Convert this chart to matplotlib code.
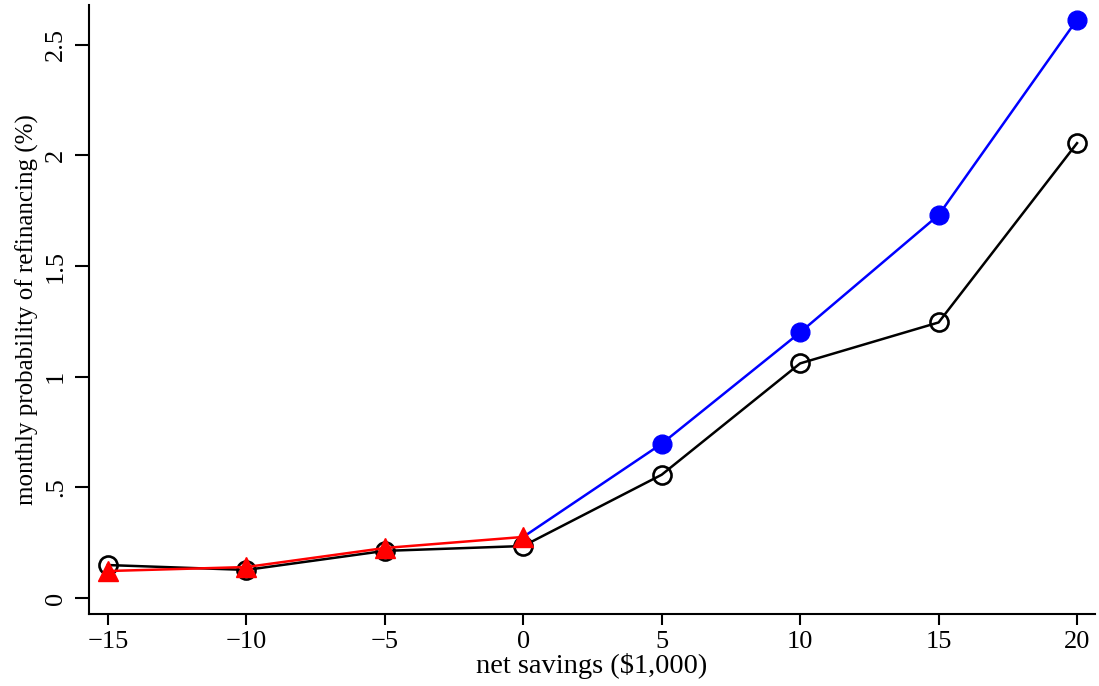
import matplotlib
matplotlib.use("Agg")
import matplotlib.pyplot as plt

plt.rcParams['font.family'] = ['Liberation Serif', 'DejaVu Serif']
plt.rcParams['axes.unicode_minus'] = True

### values
savings = [-15, -10, -5, 0, 5, 10, 15, 20]
prob_all = [0.149, 0.127, 0.213, 0.235, 0.557, 1.06, 1.245, 2.055]

savings_pos = [0, 5, 10, 15, 20]
prob_pos = [0.276, 0.697, 1.20, 1.73, 2.613]

savings_neg = [-15, -10, -5, 0]
prob_neg = [0.122, 0.14, 0.226, 0.276]

yticks = [0, 0.5, 1, 1.5, 2, 2.5]
ytick_labels = ["0", ".5", "1", "1.5", "2", "2.5"]

fig = plt.figure(figsize=(10.99, 6.86), dpi=100)
ax = fig.add_axes([0.081, 0.105, 0.9154, 0.888])

ax.plot(savings, prob_all, color='black', lw=1.8, marker='o', ms=13,
        mfc='none', mec='black', mew=1.9, zorder=2)
# blue line starts at the last red point, markers only on positive savings
ax.plot(savings_pos, prob_pos, color='blue', lw=1.8, marker='o', ms=13.5,
        mfc='blue', mec='blue', markevery=[1, 2, 3, 4], zorder=3)
ax.plot(savings_neg, prob_neg, color='red', lw=1.8, marker='^', ms=15,
        mfc='red', mec='red', zorder=4)

ax.set_xlim(-15.68, 20.65)
ax.set_ylim(-0.072, 2.68)
ax.set_xticks(savings)
ax.set_yticks(yticks)
ax.set_yticklabels(ytick_labels, rotation=90, va='center')

ax.spines['top'].set_visible(False)
ax.spines['right'].set_visible(False)
ax.spines['left'].set_linewidth(1.5)
ax.spines['bottom'].set_linewidth(1.5)
ax.tick_params(axis='both', direction='out', width=1.5, labelsize=19)
ax.tick_params(axis='y', length=10, pad=6)
ax.tick_params(axis='x', length=8, pad=4)

ax.set_xlabel("net savings ($1,000)", fontsize=20.5, labelpad=0)
ax.set_ylabel("monthly probability of refinancing (%)", fontsize=18, labelpad=4)

fig.savefig("out.png", dpi=100)
